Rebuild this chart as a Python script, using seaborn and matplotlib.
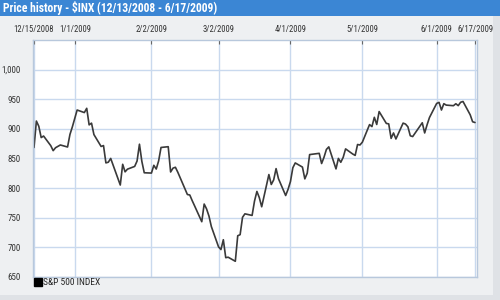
import matplotlib
matplotlib.use("Agg")
import matplotlib.pyplot as plt
from matplotlib.patches import Rectangle
from matplotlib.lines import Line2D
from matplotlib.ticker import FuncFormatter
import seaborn as sns
import pandas as pd

title = "Price history - \\$INX (12/13/2008 - 6/17/2009)"
series_name = "S&P 500 INDEX"

dates = [
    "2008-12-15", "2008-12-16", "2008-12-17", "2008-12-18", "2008-12-19", "2008-12-22",
    "2008-12-23", "2008-12-24", "2008-12-26", "2008-12-29", "2008-12-30", "2008-12-31",
    "2009-01-02", "2009-01-05", "2009-01-06", "2009-01-07", "2009-01-08", "2009-01-09",
    "2009-01-12", "2009-01-13", "2009-01-14", "2009-01-15", "2009-01-16", "2009-01-20",
    "2009-01-21", "2009-01-22", "2009-01-23", "2009-01-26", "2009-01-27", "2009-01-28",
    "2009-01-29", "2009-01-30", "2009-02-02", "2009-02-03", "2009-02-04", "2009-02-05",
    "2009-02-06", "2009-02-09", "2009-02-10", "2009-02-11", "2009-02-12", "2009-02-13",
    "2009-02-17", "2009-02-18", "2009-02-19", "2009-02-20", "2009-02-23", "2009-02-24",
    "2009-02-25", "2009-02-26", "2009-02-27", "2009-03-02", "2009-03-03", "2009-03-04",
    "2009-03-05", "2009-03-06", "2009-03-09", "2009-03-10", "2009-03-11", "2009-03-12",
    "2009-03-13", "2009-03-16", "2009-03-17", "2009-03-18", "2009-03-19", "2009-03-20",
    "2009-03-23", "2009-03-24", "2009-03-25", "2009-03-26", "2009-03-27", "2009-03-30",
    "2009-03-31", "2009-04-01", "2009-04-02", "2009-04-03", "2009-04-06", "2009-04-07",
    "2009-04-08", "2009-04-09", "2009-04-13", "2009-04-14", "2009-04-15", "2009-04-16",
    "2009-04-17", "2009-04-20", "2009-04-21", "2009-04-22", "2009-04-23", "2009-04-24",
    "2009-04-27", "2009-04-28", "2009-04-29", "2009-04-30", "2009-05-01", "2009-05-04",
    "2009-05-05", "2009-05-06", "2009-05-07", "2009-05-08", "2009-05-11", "2009-05-12",
    "2009-05-13", "2009-05-14", "2009-05-15", "2009-05-18", "2009-05-19", "2009-05-20",
    "2009-05-21", "2009-05-22", "2009-05-26", "2009-05-27", "2009-05-28", "2009-05-29",
    "2009-06-01", "2009-06-02", "2009-06-03", "2009-06-04", "2009-06-05", "2009-06-08",
    "2009-06-09", "2009-06-10", "2009-06-11", "2009-06-12", "2009-06-15", "2009-06-16",
    "2009-06-17",
]
closes = [
    868.6, 913.2, 904.4, 885.3, 887.9, 871.6,
    863.2, 868.2, 872.8, 869.4, 890.6, 903.3,
    931.8, 927.5, 934.7, 906.7, 909.7, 890.4,
    870.3, 871.8, 842.6, 843.7, 850.1, 805.2,
    840.2, 827.5, 832.0, 836.6, 845.7, 874.1,
    845.1, 825.9, 825.4, 838.5, 832.2, 845.9,
    868.6, 869.9, 827.2, 833.7, 835.2, 826.8,
    789.2, 788.4, 778.9, 770.1, 743.3, 773.1,
    764.9, 752.8, 735.1, 700.8, 696.3, 712.9,
    682.6, 683.4, 676.5, 719.6, 721.4, 750.7,
    756.6, 753.9, 778.1, 794.4, 784.0, 768.5,
    822.9, 806.1, 813.9, 832.9, 815.9, 787.5,
    797.9, 811.1, 834.4, 842.5, 835.5, 815.6,
    825.2, 856.6, 858.7, 841.5, 852.1, 865.3,
    869.6, 832.4, 850.1, 843.6, 851.9, 866.2,
    857.5, 855.2, 873.6, 872.8, 877.5, 907.2,
    903.8, 919.5, 907.4, 929.2, 909.2, 908.4,
    883.9, 893.1, 882.9, 909.7, 908.1, 903.5,
    888.3, 887.0, 910.3, 893.1, 906.8, 919.1,
    942.9, 944.7, 931.8, 942.5, 940.1, 939.1,
    942.4, 939.2, 944.9, 946.2, 923.7, 912.0,
    910.7,
]
x_tick_dates = ["2008-12-15", "2009-01-01", "2009-02-02", "2009-03-02",
                "2009-04-01", "2009-05-01", "2009-06-01", "2009-06-17"]
x_tick_labels = ["12/15/2008", "1/1/2009", "2/2/2009", "3/2/2009",
                 "4/1/2009", "5/1/2009", "6/1/2009", "6/17/2009"]
y_ticks = [650, 700, 750, 800, 850, 900, 950, 1000]

df = pd.DataFrame({"date": pd.to_datetime(dates), "close": closes})

sns.set_theme(style="white")
plt.rcParams["font.family"] = ["Liberation Sans Narrow", "Roboto Condensed",
                               "Liberation Sans", "DejaVu Sans"]

fig = plt.figure(figsize=(5, 3), dpi=100)
fig.patch.set_facecolor("#dfe2e6")
fig.add_artist(Rectangle((0.0, 0.017), 0.986, 0.93, transform=fig.transFigure,
                         facecolor="#eef0f2", edgecolor="none", zorder=0))
fig.add_artist(Rectangle((0.0, 0.947), 1.0, 0.053, transform=fig.transFigure,
                         facecolor="#3b86d4", edgecolor="none", zorder=0))
fig.text(0.006, 0.973, title, color="white", fontsize=8.4, fontweight="bold",
         va="center", ha="left")

ax = fig.add_axes([0.066, 0.0767, 0.888, 0.79])
ax.set_facecolor("white")
sns.lineplot(data=df, x="date", y="close", ax=ax, color="#3a3a3a", linewidth=1.2)

ax.set_ylim(650, 1050)
ax.set_xlim(pd.Timestamp("2008-12-14 14:00"), pd.Timestamp("2009-06-17 20:00"))
ax.set_yticks(y_ticks)
ax.yaxis.set_major_formatter(FuncFormatter(lambda v, p: f"{int(v):,}"))
ax.set_xticks(pd.to_datetime(x_tick_dates))
ax.set_xticklabels(x_tick_labels)
ax.xaxis.tick_top()
ax.tick_params(axis="x", which="both", top=True, bottom=False, direction="in",
               length=3, width=0.8, color="#666666", labelsize=6.2,
               labelcolor="#333333", pad=4)
ax.tick_params(axis="y", left=False, labelsize=6.5, labelcolor="#333333", pad=3)
ax.grid(True, color="#c9d9ee", linewidth=1.0)
ax.set_axisbelow(True)
for s in ax.spines.values():
    s.set_color("#b8c8dc")
    s.set_linewidth(1.0)
ax.set_xlabel("")
ax.set_ylabel("")

handle = Line2D([], [], marker="s", color="black", linestyle="none", markersize=5.5)
fig.legend(handles=[handle], labels=[series_name], loc="center left",
           bbox_to_anchor=(0.058, 0.057), frameon=False, fontsize=6.8,
           handletextpad=0.1, borderaxespad=0, handlelength=1.0)

fig.savefig("out.png", dpi=100, facecolor=fig.get_facecolor())
